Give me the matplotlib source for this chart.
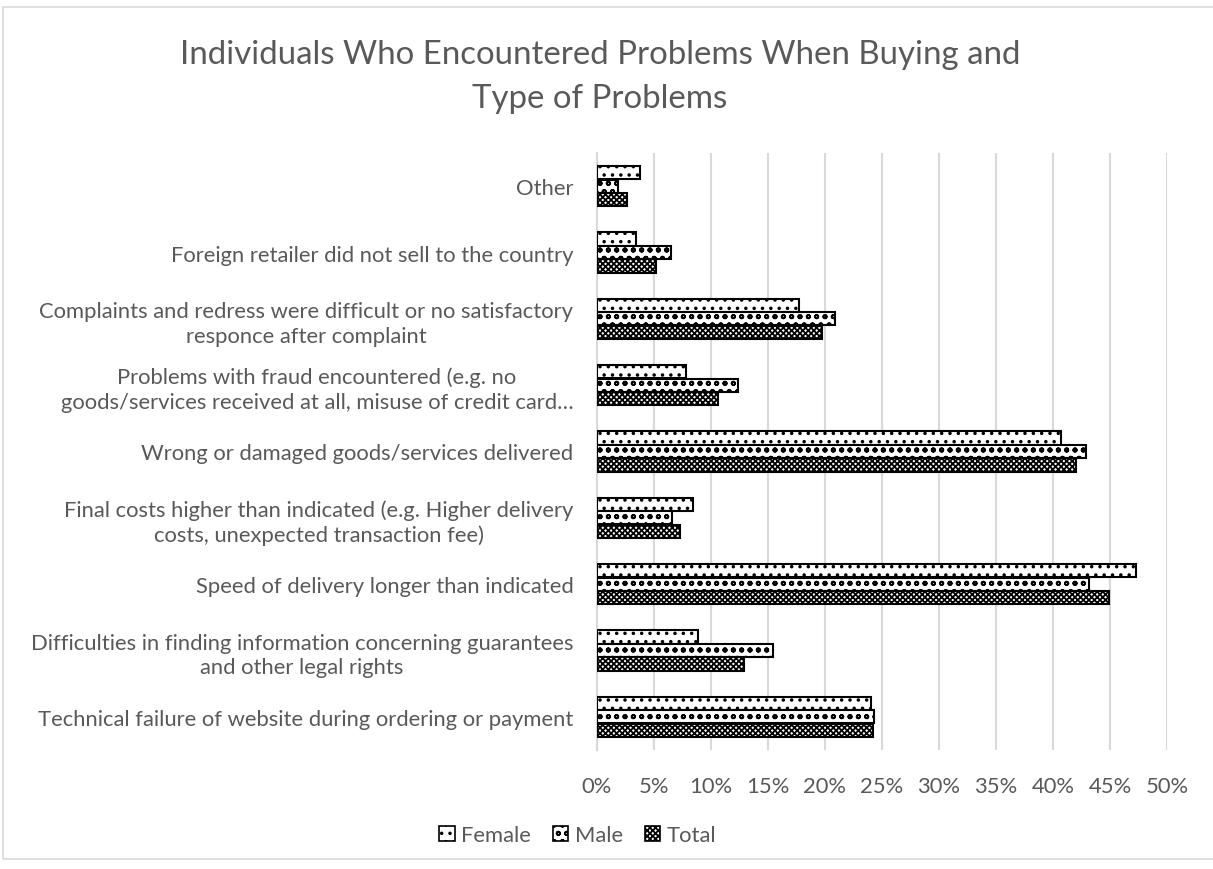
import matplotlib
matplotlib.use("Agg")
import matplotlib.pyplot as plt
import numpy as np
from matplotlib.patches import Rectangle
from matplotlib.ticker import MultipleLocator, PercentFormatter

# categories from bottom to top (as drawn)
categories = [
    "Technical failure of website during ordering or payment",
    "Difficulties in finding information concerning guarantees\nand other legal rights",
    "Speed of delivery longer than indicated",
    "Final costs higher than indicated (e.g. Higher delivery\ncosts, unexpected transaction fee)",
    "Wrong or damaged goods/services delivered",
    "Problems with fraud encountered (e.g. no\ngoods/services received at all, misuse of credit card\u2026",
    "Complaints and redress were difficult or no satisfactory\nresponce after complaint",
    "Foreign retailer did not sell to the country",
    "Other",
]
female = [24.0, 8.9, 47.3, 8.4, 40.7, 7.8, 17.7, 3.4, 3.8]
male = [24.3, 15.4, 43.2, 6.6, 42.9, 12.4, 20.9, 6.5, 1.8]
total = [24.2, 12.9, 44.9, 7.3, 42.0, 10.6, 19.7, 5.2, 2.6]

series = [("Female", female, ".."), ("Male", male, "oo"), ("Total", total, "xxxxxx")]

plt.rcParams['font.family'] = ['Lato', 'DejaVu Sans']
plt.rcParams['hatch.linewidth'] = 1.3
grey = "#595959"
fs = 15.8

fig = plt.figure(figsize=(12.13, 8.70), dpi=100)
W, H = 1213, 870
ax = fig.add_axes([597 / W, 1 - 751 / H, (1167 - 597) / W, (751 - 154) / H])

# chart border
fig.patches.append(Rectangle((3 / W, 1 - 860 / H), 1.0, (860 - 8) / H, transform=fig.transFigure,
                             fill=False, edgecolor="#d9d9d9", linewidth=1.2, zorder=0))

y = np.arange(len(categories))
h = 0.2
offsets = [0.205, 0.0, -0.205]
for (name, vals, hatch), off in zip(series, offsets):
    ax.barh(y + off, vals, height=h, color="white", edgecolor="black",
            linewidth=1.5, hatch=hatch, label=name, zorder=3)

ax.set_xlim(0, 50)
ax.set_ylim(-0.5, len(categories) - 0.5)
ax.xaxis.set_major_locator(MultipleLocator(5))
ax.xaxis.set_major_formatter(PercentFormatter(decimals=0))
ax.grid(axis="x", color="#d9d9d9", linewidth=1.5, zorder=0)
ax.set_axisbelow(True)
ax.set_yticks(y)
ax.set_yticklabels(categories, multialignment="center", linespacing=1.3)
ax.tick_params(axis="both", length=0, labelsize=fs, colors=grey)
ax.tick_params(axis="y", pad=17)
ax.tick_params(axis="x", pad=19)
for s in ["top", "right", "bottom"]:
    ax.spines[s].set_visible(False)
ax.spines["left"].set_color("#d9d9d9")
ax.spines["left"].set_linewidth(1.5)

fig.text(600 / W, 1 - 77 / H, "Individuals Who Encountered Problems When Buying and\nType of Problems",
         ha="center", va="center", fontsize=23.8, color=grey, linespacing=1.55)

handles = [Rectangle((0, 0), 1, 1, facecolor="white", edgecolor="black", hatch=hatch, linewidth=1.2)
           for _, _, hatch in series]
fig.legend(handles, [s[0] for s in series], loc="center", bbox_to_anchor=(578 / W, 1 - 836 / H),
           ncol=3, frameon=False, fontsize=fs, labelcolor=grey, handlelength=0.7,
           handleheight=0.7, handletextpad=0.3, columnspacing=1.0)

fig.savefig("out.png", dpi=100)
